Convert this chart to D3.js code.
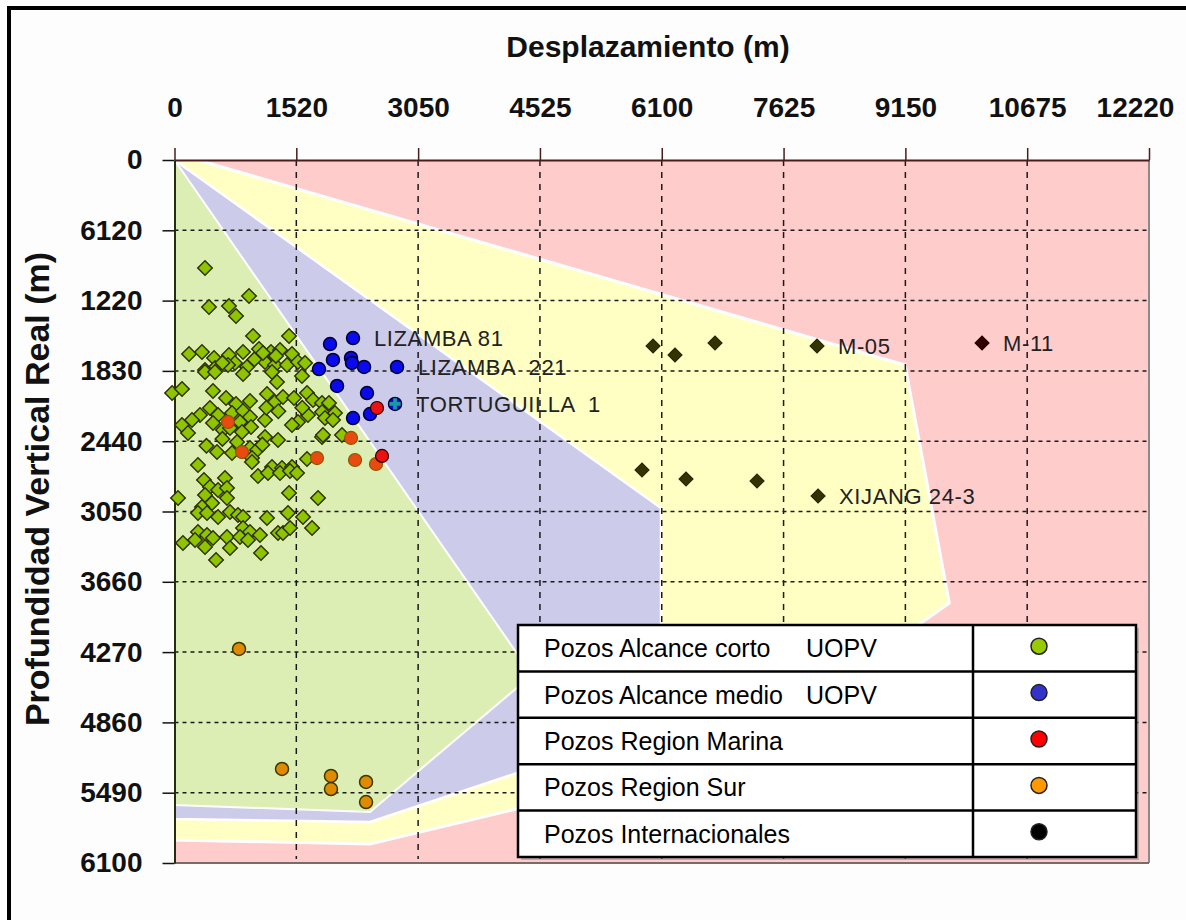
<!DOCTYPE html>
<html><head><meta charset="utf-8">
<script src="https://cdn.jsdelivr.net/npm/d3@7"></script>
<style>
body{margin:0;background:#fff;}
svg{display:block;font-family:"Liberation Sans",Arial,sans-serif;}
</style>
</head><body>
<svg id="chart" width="1186" height="920"></svg>
<script>
// ---------- DATA ----------
const xTickLabels = ['0','1520','3050','4525','6100','7625','9150','10675','12220'];
const yTickLabels = ['0','6120','1220','1830','2440','3050','3660','4270','4860','5490','6100'];
const xStep = 1525, yStep = 610;

// Reach zones (desplazamiento m, profundidad m)
const zonePink   = [[0,0],[12200,0],[12200,6100],[0,6100]];
const zoneYellow = [[0,0],[294,0],[9146,1779],[9700,3845],[9309,4035],[7581,4859],[4326,5623],[2448,5935],[0,5900]];
const zoneBlue   = [[0,0],[6091,3020],[6091,4903],[4326,5310],[2448,5744],[0,5718]];
const zoneGreen  = [[0,0],[4476,4469],[2448,5657],[0,5597]];

// Pozos alcance corto UOPV (green)
const pozosCorto = [
[382,937],[933,1180],[432,1276],[682,1267],[770,1354],[983,1527],[1434,1527],
[182,1683],[344,1666],[495,1718],[682,1692],[858,1666],[1058,1640],[1208,1666],[1321,1649],[1471,1683],
[1133,1753],[757,1761],[908,1796],[670,1779],[507,1805],[382,1822],[1258,1779],[1409,1779],[1546,1753],[1634,1761],[1108,1675],
[382,1840],[507,1840],[858,1857],[1221,1840],[1596,1874],[-30,2022],[94,1987],[482,2004],[645,2065],
[1283,1926],[1158,2030],[1258,2100],[1358,2056],[1496,2065],[1659,2022],[1734,2082],[1847,2108],[1934,2108],
[770,2117],[945,2091],[444,2152],[545,2213],[720,2195],[858,2178],[319,2213],[219,2256],[94,2299],[169,2369],
[482,2282],[607,2343],[820,2273],[945,2230],[958,2317],[1133,2256],[845,2360],[695,2325],
[1671,2213],[1546,2273],[1471,2299],[1847,2187],[1884,2239],[2009,2195],[1984,2256],[2097,2386],[1847,2404],
[1133,2404],[1296,2430],[783,2447],[945,2499],[1033,2516],[532,2534],[720,2542],[970,2586],[294,2646],
[1659,2594],[1221,2664],[1346,2673],[1471,2664],[1859,2386],[970,2620],
[1045,2742],[1171,2716],[1321,2716],[1446,2699],[1534,2716],[369,2777],[632,2759],[444,2837],[545,2863],[657,2846],
[44,2933],[382,2907],[657,2933],[1434,2889],[1797,2933],[470,2976],[344,3011],[294,3063],[407,3063],[545,3098],
[695,3054],[795,3080],[858,3098],[1158,3106],[1421,3063],[1609,3098],[1722,3193],[294,3228],[407,3254],[482,3280],
[657,3271],[858,3193],[820,3271],[945,3228],[1070,3254],[1296,3237],[1358,3237],[1446,3193],[106,3323],[257,3297],
[382,3358],[920,3297],[695,3367],[1083,3410],[520,3471],
[1270,1700],[1000,1730],[600,1760],[1150,2150],[1300,2180],[1600,2150],[600,2420],[1100,2470],[400,2480]
];
// Pozos alcance medio UOPV (blue)
const pozosMedio = [
[2235,1545],[1947,1597],[1984,1735],[2210,1718],[2222,1761],[2373,1796],[2786,1796],
[1809,1814],[2035,1961],[2410,2022],[2448,2204],[2235,2239],[2761,2117]
];
// Pozos Region Marina (red)
const pozosMarina = [[670,2273],[845,2534],[1784,2586],[2210,2412],[2260,2603],[2523,2638],[2535,2152],[2598,2568]];
// Pozos Region Sur (orange)
const pozosSur = [[808,4243],[1346,5284],[1959,5345],[1959,5458],[2398,5397],[2398,5571]];
// Pozos Internacionales (black)
const pozosInter = [[5991,1614],[6266,1692],[6767,1588],[8044,1614],[5853,2690],[6404,2768],[7293,2785],[8057,2915]];
const pozoM11 = [[10110,1588]];
const pozoCruz = [[2761,2117]];

const wellLabels = [
  {text:'LIZAMBA 81', x:2235, y:1545},
  {text:'LIZAMBA  221', x:2786, y:1796},
  {text:'TORTUGUILLA  1', x:2761, y:2117},
  {text:'M-05', x:8044, y:1614},
  {text:'M-11', x:10110, y:1588},
  {text:'XIJANG 24-3', x:8057, y:2915}
];

const legendNames = ['Pozos Alcance corto','Pozos Alcance medio','Pozos Region Marina','Pozos Region Sur','Pozos Internacionales'];
const legendTags  = ['UOPV','UOPV','','',''];
const legendColors = ['#99cc00','#3333cc','#ff0000','#ff9900','#000000'];

// ---------- CHART ----------
const svg = d3.select('#chart');
const x = d3.scaleLinear().domain([0,12200]).range([174.5,1149]);
const y = d3.scaleLinear().domain([0,6100]).range([160,863]);
const xTicks = xTickLabels.map((d,i)=>i*xStep);
const yTicks = yTickLabels.map((d,i)=>i*yStep);

svg.append('rect').attr('width',1186).attr('height',920).attr('fill','#fdfdfd');
// outer frame
svg.append('rect').attr('x',9).attr('y',8).attr('width',1250).attr('height',1000)
  .attr('fill','none').attr('stroke','#000').attr('stroke-width',4);

const line = d3.line().x(d=>x(d[0])).y(d=>y(d[1])).curve(d3.curveLinearClosed);
svg.append('path').attr('d',line(zonePink)).attr('fill','#ffcccc');
svg.append('path').attr('d',line(zoneYellow)).attr('fill','#ffffc4').attr('stroke','#fff').attr('stroke-width',3);
svg.append('path').attr('d',line(zoneBlue)).attr('fill','#ccccea').attr('stroke','#fff').attr('stroke-width',2.5);
svg.append('path').attr('d',line(zoneGreen)).attr('fill','#ddeeb4').attr('stroke','#fff').attr('stroke-width',2);

// gridlines
svg.append('g').selectAll('line').data(xTicks.slice(1,-1)).join('line')
  .attr('x1',d=>x(d)).attr('x2',d=>x(d)).attr('y1',y(0)).attr('y2',y(6100)-4)
  .attr('stroke','#1a1a1a').attr('stroke-width',1.5).attr('stroke-dasharray','6,6');
svg.append('g').selectAll('line').data(yTicks.slice(1,-1)).join('line')
  .attr('y1',d=>y(d)).attr('y2',d=>y(d)).attr('x1',x(0)).attr('x2',x(12200))
  .attr('stroke','#1a1a1a').attr('stroke-width',1.5).attr('stroke-dasharray','4,4');

// plot border right / bottom
svg.append('line').attr('x1',x(12200)).attr('x2',x(12200)).attr('y1',y(0)).attr('y2',y(6100))
  .attr('stroke','#8a8a8a').attr('stroke-width',2);
svg.append('line').attr('x1',x(0)).attr('x2',x(12200)).attr('y1',y(6100)).attr('y2',y(6100))
  .attr('stroke','#7a6a6a').attr('stroke-width',2);

// axes
const xAxis = d3.axisTop(x).tickValues(xTicks).tickFormat((d,i)=>xTickLabels[i]).tickSize(12).tickSizeOuter(0).tickPadding(31);
const gx = svg.append('g').attr('transform',`translate(0,${y(0)})`).call(xAxis);
gx.select('.domain').attr('stroke','#4a1c1c').attr('stroke-width',2);
gx.selectAll('.tick line').attr('stroke','#4a1c1c').attr('stroke-width',1.5);
gx.selectAll('.tick text').attr('font-size',28).attr('font-weight','bold').attr('fill','#111')
  .attr('font-family','"Liberation Sans",Arial,sans-serif');
gx.selectAll('.tick text').filter((d,i)=>i===xTickLabels.length-1).attr('dx',-14);

const yAxis = d3.axisLeft(y).tickValues(yTicks).tickFormat((d,i)=>yTickLabels[i]).tickSize(12).tickSizeOuter(0).tickPadding(20);
const gy = svg.append('g').attr('transform',`translate(${x(0)},0)`).call(yAxis);
gy.select('.domain').attr('stroke','#2a2a10').attr('stroke-width',2);
gy.selectAll('.tick line').attr('stroke','#111').attr('stroke-width',1.5);
gy.selectAll('.tick text').attr('font-size',28).attr('font-weight','bold').attr('fill','#111')
  .attr('font-family','"Liberation Sans",Arial,sans-serif');

// titles
svg.append('text').attr('x',648).attr('y',57).attr('text-anchor','middle')
  .attr('font-size',30).attr('font-weight','bold').attr('fill','#111').text('Desplazamiento (m)');
svg.append('text').attr('transform','translate(49,489) rotate(-90)').attr('text-anchor','middle')
  .attr('font-size',34).attr('font-weight','bold').attr('fill','#111').text('Profundidad Vertical Real (m)');

// markers
const diamond = d3.symbol(d3.symbolSquare, 105)();
svg.append('g').selectAll('path').data(pozosCorto).join('path')
  .attr('d',diamond).attr('transform',d=>`translate(${x(d[0])},${y(d[1])}) rotate(45)`)
  .attr('fill','#8fc400').attr('stroke','#2e3300').attr('stroke-width',1.5);

svg.append('g').selectAll('circle').data(pozosMedio).join('circle')
  .attr('cx',d=>x(d[0])).attr('cy',d=>y(d[1])).attr('r',6.5)
  .attr('fill','#0a0aee').attr('stroke','#000033').attr('stroke-width',1.5);
svg.append('g').selectAll('path').data(pozoCruz).join('path')
  .attr('d',d3.symbol(d3.symbolCross,70)()).attr('transform',d=>`translate(${x(d[0])},${y(d[1])})`)
  .attr('fill','#1a9aa0');

svg.append('g').selectAll('circle').data(pozosMarina).join('circle')
  .attr('cx',d=>x(d[0])).attr('cy',d=>y(d[1])).attr('r',6.5)
  .attr('fill',(d,i)=> i>=6 ? '#ee1111' : '#e84a10')
  .attr('stroke',(d,i)=> i>=6 ? '#220000' : '#8a5a00').attr('stroke-width',1.2);

svg.append('g').selectAll('circle').data(pozosSur).join('circle')
  .attr('cx',d=>x(d[0])).attr('cy',d=>y(d[1])).attr('r',6.5)
  .attr('fill','#e08a00').attr('stroke','#3a3a00').attr('stroke-width',1.5);

const smallDiamond = d3.symbol(d3.symbolSquare, 100)();
svg.append('g').selectAll('path').data(pozosInter).join('path')
  .attr('d',smallDiamond).attr('transform',d=>`translate(${x(d[0])},${y(d[1])}) rotate(45)`)
  .attr('fill','#333300').attr('stroke','#222200').attr('stroke-width',1);
svg.append('g').selectAll('path').data(pozoM11).join('path')
  .attr('d',smallDiamond).attr('transform',d=>`translate(${x(d[0])},${y(d[1])}) rotate(45)`)
  .attr('fill','#330000').attr('stroke','#220000').attr('stroke-width',1);

// well labels
svg.append('g').selectAll('text').data(wellLabels).join('text')
  .attr('x',d=>x(d.x)+21).attr('y',d=>y(d.y)).attr('dy','0.35em')
  .attr('font-size',22).attr('letter-spacing',0.6).attr('fill','#222')
  .style('white-space','pre').text(d=>d.text);

// legend
const L = {x:518, y:625, w:618, h:232, col:973};
const rowH = L.h/legendNames.length;
const lg = svg.append('g');
lg.append('rect').attr('x',L.x+3).attr('y',L.y+3).attr('width',L.w).attr('height',L.h).attr('fill','#888').attr('opacity',0.5);
lg.append('rect').attr('x',L.x).attr('y',L.y).attr('width',L.w).attr('height',L.h).attr('fill','#fff').attr('stroke','#000').attr('stroke-width',2.5);
lg.append('line').attr('x1',L.col).attr('x2',L.col).attr('y1',L.y).attr('y2',L.y+L.h).attr('stroke','#000').attr('stroke-width',2.5);
legendNames.forEach((n,i)=>{
  const cy = L.y + rowH*(i+0.5);
  if(i>0) lg.append('line').attr('x1',L.x).attr('x2',L.x+L.w).attr('y1',L.y+rowH*i).attr('y2',L.y+rowH*i).attr('stroke','#000').attr('stroke-width',2.5);
  lg.append('text').attr('x',L.x+26).attr('y',cy).attr('dy','0.36em').attr('font-size',25).attr('fill','#000').text(n);
  if(legendTags[i]) lg.append('text').attr('x',806).attr('y',cy).attr('dy','0.36em').attr('font-size',25).attr('fill','#000').text(legendTags[i]);
  lg.append('circle').attr('cx',1039).attr('cy',cy-2).attr('r',8).attr('fill',legendColors[i]).attr('stroke','#222').attr('stroke-width',1.5);
});
</script>
</body></html>
